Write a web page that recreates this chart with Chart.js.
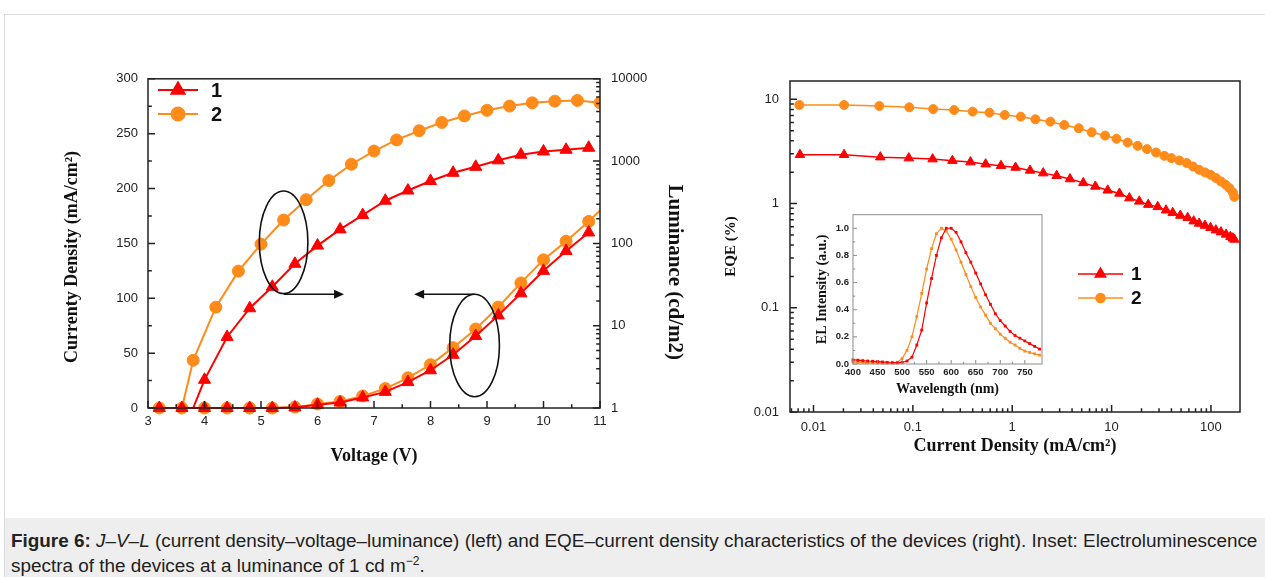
<!DOCTYPE html>
<html>
<head>
<meta charset="utf-8">
<script src="https://cdn.jsdelivr.net/npm/chart.js@4.4.1/dist/chart.umd.min.js"></script>
<style>
html, body { margin: 0; padding: 0; background: #fff; }
body { width: 1265px; height: 577px; position: relative; overflow: hidden; font-family: 'Liberation Sans', Arial, sans-serif; }
#frame { position: absolute; left: 4px; top: 14px; width: 1275px; height: 600px; border: 1px solid #dcdcdc; }
#caption { position: absolute; left: 5px; top: 518px; width: 1270px; height: 70px; background: #eeeeee; color: #222;
  font-size: 18.9px; line-height: 25px; padding: 10px 0 0 6px; box-sizing: border-box; white-space: nowrap; }
#caption sup { font-size: 12px; line-height: 0; vertical-align: 7px; }
canvas { position: absolute; }
</style>
</head>
<body>
<div id="frame"></div>
<canvas id="jvl" width="720" height="420" style="left:0;top:60px"></canvas>
<canvas id="eqe" width="545" height="420" style="left:720px;top:60px"></canvas>
<canvas id="el" width="240" height="195" style="left:810px;top:205px"></canvas>
<div id="caption"><b>Figure 6:</b> <i>J</i>–<i>V</i>–<i>L</i> (current density–voltage–luminance) (left) and EQE–current density characteristics of the devices (right). Inset: Electroluminescence<br>spectra of the devices at a luminance of 1 cd m<sup>−2</sup>.</div>
<script>
// ---- data ----
// J-V (left axis)
const voltJ = [3.2, 3.6, 4.0, 4.4, 4.8, 5.2, 5.6, 6.0, 6.4, 6.8, 7.2, 7.6, 8.0, 8.4, 8.8, 9.2, 9.6, 10.0, 10.4, 10.8, 11.2];
const jDev1 = [0, 0, 0, 0, 0, 0, 0.5, 3, 5, 9.6, 14.7, 23.6, 34.4, 48.5, 65.6, 84.4, 104.5, 125, 143, 160, null];
const jDev2 = [0, 0, 0, 0, 0, 0, 0.8, 3.6, 6, 11, 17.7, 27.5, 39.5, 55, 72, 92, 114, 135, 152, 170, 190];

// L-V (right log axis)
const voltL1 = [3.8, 4.0, 4.4, 4.8, 5.2, 5.6, 6.0, 6.4, 6.8, 7.2, 7.6, 8.0, 8.4, 8.8, 9.2, 9.6, 10.0, 10.4, 10.8];
const lumDev1 = [1, 2.2, 7.3, 16.3, 29.7, 56.5, 94, 148, 221, 330, 439, 573, 721, 852, 1022, 1197, 1310, 1373, 1452];
const voltL2 = [3.6, 3.8, 4.2, 4.6, 5.0, 5.4, 5.8, 6.2, 6.6, 7.0, 7.4, 7.8, 8.2, 8.6, 9.0, 9.4, 9.8, 10.2, 10.6, 11.0];
const lumDev2 = [1, 3.8, 16.8, 46, 98, 192, 340, 580, 916, 1325, 1808, 2340, 2945, 3540, 4140, 4660, 5100, 5350, 5455, 5117];

// EQE vs current density
const jEqe1 = [0.0073, 0.0203, 0.047, 0.091, 0.158, 0.25, 0.38, 0.54, 0.77, 1.08, 1.51, 2.05, 2.8, 3.81, 5.19, 6.86, 9.14, 12,
  15.1, 19, 23.4, 29.1, 35.3, 41.2, 49.2, 58.3, 67, 76, 87, 99, 112, 126, 142, 157, 166, 172];
const eqe1 = [2.94, 2.94, 2.79, 2.73, 2.67, 2.58, 2.50, 2.39, 2.31, 2.22, 2.08, 1.96, 1.85, 1.72, 1.58, 1.46, 1.34, 1.25,
  1.13, 1.05, 0.977, 0.93, 0.863, 0.815, 0.768, 0.73, 0.678, 0.644, 0.616, 0.586, 0.556, 0.532, 0.506, 0.481, 0.465, 0.453];
const jEqe2 = [0.0072, 0.0203, 0.046, 0.092, 0.16, 0.26, 0.40, 0.59, 0.84, 1.22, 1.71, 2.42, 3.34, 4.67, 6.3, 8.6, 11.2, 14.5,
  18.3, 22.7, 28, 34, 40, 48, 57, 66, 76, 87, 99, 112, 126, 140, 153, 166, 172];
const eqe2 = [8.83, 8.83, 8.63, 8.38, 8.07, 7.9, 7.62, 7.45, 7.08, 6.82, 6.44, 6.11, 5.68, 5.28, 4.84, 4.49, 4.18, 3.85,
  3.58, 3.33, 3.09, 2.87, 2.73, 2.59, 2.45, 2.27, 2.11, 1.99, 1.89, 1.76, 1.63, 1.52, 1.41, 1.28, 1.16];

// EL spectra (inset)
const wavelength = [400, 410, 420, 430, 440, 450, 460, 470, 480, 490, 500, 510, 520, 530, 540, 550, 560, 570, 580, 590,
  600, 610, 620, 630, 640, 650, 660, 670, 680, 690, 700, 710, 720, 730, 740, 750, 760, 770, 780];
const elDev1 = [0.03, 0.028, 0.025, 0.022, 0.02, 0.018, 0.015, 0.012, 0.01, 0.008, 0.012, 0.022, 0.05, 0.14, 0.25, 0.45, 0.63, 0.8, 0.93, 1.0,
  1.0, 0.97, 0.9, 0.82, 0.75, 0.67, 0.59, 0.51, 0.44, 0.37, 0.32, 0.28, 0.24, 0.21, 0.19, 0.17, 0.15, 0.13, 0.11];
const elDev2 = [0.015, 0.013, 0.012, 0.01, 0.009, 0.008, 0.007, 0.006, 0.006, 0.012, 0.04, 0.1, 0.2, 0.35, 0.52, 0.7, 0.85, 0.96, 1.0, 0.98,
  0.92, 0.84, 0.75, 0.66, 0.57, 0.49, 0.42, 0.36, 0.3, 0.26, 0.22, 0.19, 0.16, 0.14, 0.115, 0.095, 0.085, 0.075, 0.065];

// tick labels
const voltTicks = [3, 4, 5, 6, 7, 8, 9, 10, 11];
const jTicks = [0, 50, 100, 150, 200, 250, 300];
const lumTicks = [1, 10, 100, 1000, 10000];
const lumTickLabels = ['1', '10', '100', '1000', '10000'];
const jLogTicks = [0.01, 0.1, 1, 10, 100];
const jLogTickLabels = ['0.01', '0.1', '1', '10', '100'];
const eqeTicks = [0.01, 0.1, 1, 10];
const eqeTickLabels = ['0.01', '0.1', '1', '10'];
const wlTicks = [400, 450, 500, 550, 600, 650, 700, 750];
const elTicks = [0, 0.2, 0.4, 0.6, 0.8, 1.0];

const RED = '#ff0000';
const ORANGE = '#ff8c1a';
const SANS = "'Liberation Sans', Arial, sans-serif";
const SERIF = "'Liberation Serif', 'Times New Roman', serif";

const pts = (xs, ys) => xs.map((x, i) => ({ x, y: ys[i] }));
const midMinor = t => t.slice(1).map((v, i) => (v + t[i]) / 2);
const logMinor = (lo, hi) => {
  const out = [];
  for (let d = 1e-4; d < 1e5; d *= 10)
    for (let k = 2; k < 10; k++) { const v = d * k; if (v > lo && v < hi) out.push(v); }
  return out;
};
const fixTicks = list => s => { s.ticks = list.map(v => ({ value: v })); };

// box + inward tick marks
const frameTicks = {
  id: 'frameTicks',
  beforeDatasetsDraw(chart, args, o) {
    if (!o.fill) return;
    const { ctx, chartArea: a } = chart;
    ctx.save();
    ctx.fillStyle = o.fill;
    ctx.fillRect(a.left, a.top, a.right - a.left, a.bottom - a.top);
    ctx.restore();
  },
  afterDatasetsDraw(chart, args, o) {
    const { ctx, chartArea: a } = chart;
    ctx.save();
    ctx.strokeStyle = o.color;
    ctx.lineWidth = o.width;
    ctx.strokeRect(a.left, a.top, a.right - a.left, a.bottom - a.top);
    ctx.beginPath();
    for (const m of o.marks) {
      const s = chart.scales[m.id];
      const put = (v, len) => {
        const p = s.getPixelForValue(v);
        if (m.side === 'bottom') { ctx.moveTo(p, a.bottom); ctx.lineTo(p, a.bottom - len); }
        else if (m.side === 'left') { ctx.moveTo(a.left, p); ctx.lineTo(a.left + len, p); }
        else { ctx.moveTo(a.right, p); ctx.lineTo(a.right - len, p); }
      };
      m.major.forEach(v => put(v, o.len));
      m.minor.forEach(v => put(v, o.len * 0.55));
    }
    ctx.stroke();
    ctx.restore();
  }
};

// legend drawn as line + symbol + label
const lineLegend = {
  id: 'lineLegend',
  afterDraw(chart, args, o) {
    if (!o.entries) return;
    const ctx = chart.ctx;
    ctx.save();
    o.entries.forEach((idx, k) => {
      const ds = chart.data.datasets[idx];
      const y = o.y + k * o.dy;
      ctx.strokeStyle = ds.borderColor;
      ctx.fillStyle = ds.backgroundColor;
      ctx.lineWidth = ds.borderWidth;
      ctx.beginPath();
      ctx.moveTo(o.x, y);
      ctx.lineTo(o.x + o.len, y);
      ctx.stroke();
      Chart.helpers.drawPoint(ctx, { pointStyle: ds.pointStyle, radius: o.radius[k], rotation: 0, borderWidth: 1 }, o.x + o.len / 2, y);
      ctx.fillStyle = '#111';
      ctx.font = o.font;
      ctx.textBaseline = 'middle';
      ctx.fillText(ds.label, o.x + o.len + o.gap, y + 1);
    });
    ctx.restore();
  }
};

// ellipses and arrows pointing to the axes
const callouts = {
  id: 'callouts',
  afterDatasetsDraw(chart, args, o) {
    if (!o.items) return;
    const { ctx } = chart;
    const xs = chart.scales.x, ys = chart.scales.y;
    ctx.save();
    ctx.strokeStyle = '#111';
    ctx.fillStyle = '#111';
    ctx.lineWidth = 1.6;
    for (const it of o.items) {
      if (it.type === 'ellipse') {
        const cx = xs.getPixelForValue(it.x), cy = ys.getPixelForValue(it.y);
        const rx = Math.abs(xs.getPixelForValue(it.x + it.rx) - cx);
        const ry = Math.abs(ys.getPixelForValue(it.y + it.ry) - cy);
        ctx.beginPath();
        ctx.ellipse(cx, cy, rx, ry, 0, 0, Math.PI * 2);
        ctx.stroke();
      } else {
        const x1 = xs.getPixelForValue(it.x1), x2 = xs.getPixelForValue(it.x2), y = ys.getPixelForValue(it.y);
        const dir = Math.sign(x2 - x1);
        ctx.beginPath();
        ctx.moveTo(x1, y);
        ctx.lineTo(x2 - dir * 6, y);
        ctx.stroke();
        ctx.beginPath();
        ctx.moveTo(x2, y);
        ctx.lineTo(x2 - dir * 10, y - 4.5);
        ctx.lineTo(x2 - dir * 10, y + 4.5);
        ctx.closePath();
        ctx.fill();
      }
    }
    ctx.restore();
  }
};

Chart.register(frameTicks, lineLegend, callouts);

const tickFont = { family: SANS, size: 13 };
const titleFont = { family: SERIF, size: 18, weight: 'bold' };
const noGrid = { display: false, drawTicks: false };
const base = {
  responsive: false,
  animation: false,
  events: [],
  plugins: { legend: { display: false }, tooltip: { enabled: false } }
};

// ---------- left: J-V-L ----------
new Chart(document.getElementById('jvl'), {
  type: 'line',
  data: {
    datasets: [
      { label: '1', data: pts(voltJ, jDev1), yAxisID: 'y', borderColor: RED, backgroundColor: RED, borderWidth: 2,
        pointStyle: 'triangle', pointRadius: 7, pointBorderWidth: 1 },
      { label: '1', data: pts(voltL1, lumDev1), yAxisID: 'y1', borderColor: RED, backgroundColor: RED, borderWidth: 2,
        pointStyle: 'triangle', pointRadius: voltL1.map((v, i) => i === 0 ? 0 : 7), pointBorderWidth: 1 },
      { label: '2', data: pts(voltJ, jDev2), yAxisID: 'y', borderColor: ORANGE, backgroundColor: ORANGE, borderWidth: 2,
        pointStyle: 'circle', pointRadius: 6, pointBorderWidth: 1 },
      { label: '2', data: pts(voltL2, lumDev2), yAxisID: 'y1', borderColor: ORANGE, backgroundColor: ORANGE, borderWidth: 2,
        pointStyle: 'circle', pointRadius: voltL2.map((v, i) => i === 0 ? 0 : 6), pointBorderWidth: 1 }
    ]
  },
  options: {
    ...base,
    datasets: { line: { clip: { left: 10, top: 10, bottom: 10, right: 0 } } },
    layout: { padding: { top: 14, left: 0, right: 0, bottom: 0 } },
    scales: {
      x: {
        type: 'linear', min: 3, max: 11, grid: noGrid, border: { display: false },
        afterFit: s => { s.height = 72; },
        afterBuildTicks: fixTicks(voltTicks),
        ticks: { font: tickFont, color: '#222', padding: 6, maxRotation: 0, autoSkip: false },
        title: { display: true, text: 'Voltage (V)', font: titleFont, color: '#111', padding: { top: 0, bottom: 13 } }
      },
      y: {
        type: 'linear', position: 'left', min: 0, max: 300, grid: noGrid, border: { display: false },
        afterFit: s => { s.width = 148; },
        afterBuildTicks: fixTicks(jTicks),
        ticks: { font: tickFont, color: '#222', padding: 10 },
        title: { display: true, text: 'Currenty Density (mA/cm²)' + ' '.repeat(6), font: titleFont, color: '#111', padding: { top: 62, bottom: 0 } }
      },
      y1: {
        type: 'logarithmic', position: 'right', min: 1, max: 10000, grid: noGrid, border: { display: false },
        afterFit: s => { s.width = 120; },
        afterBuildTicks: fixTicks(lumTicks),
        ticks: { font: tickFont, color: '#222', padding: 11, callback: (v, i) => lumTickLabels[i] },
        title: { display: true, text: ' '.repeat(11) + 'Luminance (cd/m2)', font: { family: SERIF, size: 21, weight: 'bold' }, color: '#111', padding: { top: 33, bottom: 0 } }
      }
    },
    plugins: {
      ...base.plugins,
      frameTicks: {
        color: '#222', width: 1.5, len: 7,
        marks: [
          { id: 'x', side: 'bottom', major: voltTicks, minor: midMinor(voltTicks) },
          { id: 'y', side: 'left', major: jTicks, minor: midMinor(jTicks) },
          { id: 'y1', side: 'right', major: lumTicks, minor: logMinor(1, 10000) }
        ]
      },
      lineLegend: { entries: [0, 2], x: 158, y: 30, dy: 24, len: 40, gap: 13, radius: [7.5, 6.5], font: "bold 20px " + SANS },
      callouts: {
        items: [
          { type: 'ellipse', x: 5.40, y: 151, rx: 0.43, ry: 46.7 },
          { type: 'arrow', x1: 5.40, x2: 6.47, y: 103.6 },
          { type: 'ellipse', x: 8.78, y: 57, rx: 0.44, ry: 46.7 },
          { type: 'arrow', x1: 8.78, x2: 7.71, y: 103.6 }
        ]
      }
    }
  }
});

// ---------- right: EQE ----------
new Chart(document.getElementById('eqe'), {
  type: 'line',
  data: {
    datasets: [
      { label: '1', data: pts(jEqe1, eqe1), borderColor: RED, backgroundColor: RED, borderWidth: 1.5,
        pointStyle: 'triangle', pointRadius: 5.5, pointBorderWidth: 1 },
      { label: '2', data: pts(jEqe2, eqe2), borderColor: ORANGE, backgroundColor: ORANGE, borderWidth: 1.5,
        pointStyle: 'circle', pointRadius: 4.5, pointBorderWidth: 1 }
    ]
  },
  options: {
    ...base,
    datasets: { line: { clip: false } },
    layout: { padding: { top: 21, left: 0, right: 25, bottom: 0 } },
    scales: {
      x: {
        type: 'logarithmic', min: 0.0058, max: 196, grid: noGrid, border: { display: false },
        afterFit: s => { s.height = 68; },
        afterBuildTicks: fixTicks(jLogTicks),
        ticks: { font: tickFont, color: '#222', padding: 8, maxRotation: 0, autoSkip: false, callback: (v, i) => jLogTickLabels[i] },
        title: { display: true, text: 'Current Density (mA/cm²)', font: titleFont, color: '#111', padding: { top: 0, bottom: 23 } }
      },
      y: {
        type: 'logarithmic', min: 0.01, max: 15, grid: noGrid, border: { display: false },
        afterFit: s => { s.width = 70; },
        afterBuildTicks: fixTicks(eqeTicks),
        ticks: { font: tickFont, color: '#222', padding: 11, callback: (v, i) => eqeTickLabels[i] },
        title: { display: true, text: 'EQE (%)', font: { family: SERIF, size: 15, weight: 'bold' }, color: '#111', padding: { top: 2, bottom: 0 } }
      }
    },
    plugins: {
      ...base.plugins,
      frameTicks: {
        color: '#222', width: 1.5, len: 7,
        marks: [
          { id: 'x', side: 'bottom', major: jLogTicks, minor: logMinor(0.0058, 196) },
          { id: 'y', side: 'left', major: eqeTicks, minor: logMinor(0.01, 15) }
        ]
      },
      lineLegend: { entries: [0, 1], x: 358, y: 214, dy: 24, len: 45, gap: 8, radius: [6, 4.5], font: "bold 19px " + SANS }
    }
  }
});

// ---------- inset: EL spectra ----------
const insetTick = { family: SANS, size: 9.5, weight: 'bold' };
new Chart(document.getElementById('el'), {
  type: 'line',
  data: {
    datasets: [
      { label: '1', data: pts(wavelength, elDev1), borderColor: RED, backgroundColor: RED, borderWidth: 1.2,
        pointStyle: 'rect', pointRadius: 2, pointBorderWidth: 0 },
      { label: '2', data: pts(wavelength, elDev2), borderColor: ORANGE, backgroundColor: ORANGE, borderWidth: 1.2,
        pointStyle: 'rect', pointRadius: 2, pointBorderWidth: 0 }
    ]
  },
  options: {
    ...base,
    datasets: { line: { clip: false } },
    layout: { padding: { top: 8, left: 0, right: 8, bottom: 0 } },
    scales: {
      x: {
        type: 'linear', min: 400, max: 785, grid: noGrid, border: { display: false },
        afterFit: s => { s.height = 36; },
        afterBuildTicks: fixTicks(wlTicks),
        ticks: { font: insetTick, color: '#222', padding: 3, maxRotation: 0, autoSkip: false },
        title: { display: true, text: 'Wavelength (nm)', font: { family: SERIF, size: 14, weight: 'bold' }, color: '#111', padding: { top: 0, bottom: 2 } }
      },
      y: {
        type: 'linear', min: 0, max: 1.1, grid: noGrid, border: { display: false },
        afterFit: s => { s.width = 43; },
        afterBuildTicks: fixTicks(elTicks),
        ticks: { font: insetTick, color: '#222', padding: 4, callback: v => v.toFixed(1) },
        title: { display: true, text: 'EL Intensity (a.u.)', font: { family: SERIF, size: 14, weight: 'bold' }, color: '#111', padding: { top: 4, bottom: 0 } }
      }
    },
    plugins: {
      ...base.plugins,
      frameTicks: {
        fill: '#fff', color: '#8c8c8c', width: 1, len: 4,
        marks: [
          { id: 'x', side: 'bottom', major: wlTicks, minor: midMinor(wlTicks) },
          { id: 'y', side: 'left', major: elTicks, minor: midMinor(elTicks) }
        ]
      }
    }
  }
});
</script>
</body>
</html>
